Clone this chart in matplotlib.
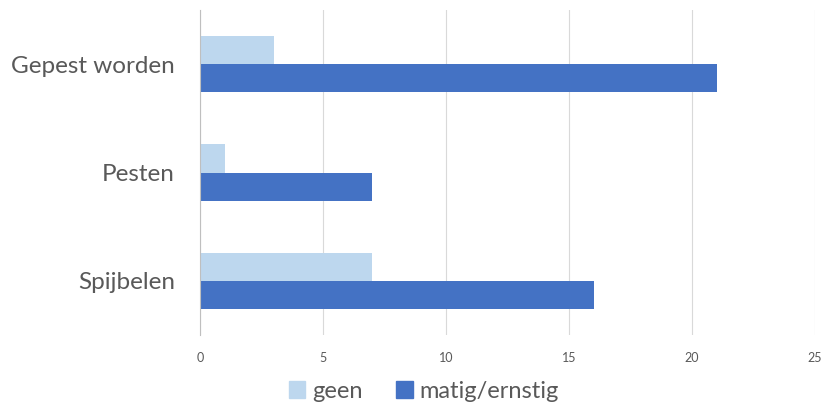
import matplotlib
matplotlib.use("Agg")
import matplotlib.pyplot as plt
import numpy as np
from matplotlib.patches import Patch

categories = ["Gepest worden", "Pesten", "Spijbelen"]
geen = [3, 1, 7]
matig = [21, 7, 16]
series_names = ["geen", "matig/ernstig"]
xticks = [0, 5, 10, 15, 20, 25]

plt.rcParams['font.family'] = ['Lato', 'DejaVu Sans']
fig = plt.figure(figsize=(8.25, 4.05), dpi=100)
ax = fig.add_axes([200/825, 1-335/405, 615/825, 325/405])

y = np.arange(len(categories))
h = 0.26
c_geen = "#BDD7EE"
c_matig = "#4472C4"
ax.barh(y - h/2, geen, height=h, color=c_geen, zorder=3)
ax.barh(y + h/2, matig, height=h, color=c_matig, zorder=3)
ax.set_ylim(2.5, -0.5)
ax.set_xlim(0, 25)
ax.set_xticks(xticks)
ax.set_xticklabels([str(t) for t in xticks], fontsize=9, color="#595959")
ax.set_yticks(y)
ax.set_yticklabels(categories, fontsize=17.5, color="#595959")
ax.tick_params(axis='both', length=0)
ax.tick_params(axis='x', pad=12)
ax.tick_params(axis='y', pad=18)
ax.grid(axis='x', color="#D9D9D9", linewidth=0.8, zorder=0)
for s in ['top', 'right', 'bottom']:
    ax.spines[s].set_visible(False)
ax.spines['left'].set_color("#BFBFBF")
ax.spines['left'].set_linewidth(0.8)
ax.spines['left'].set_zorder(4)

handles = [Patch(color=c_geen), Patch(color=c_matig)]
fig.legend(handles, series_names, loc='center', bbox_to_anchor=(424/825, 1-391/405),
           ncol=2, frameon=False, fontsize=17, labelcolor="#595959",
           handlelength=0.7, handleheight=0.7, handletextpad=0.3, columnspacing=1.4)

fig.savefig("out.png", dpi=100)
